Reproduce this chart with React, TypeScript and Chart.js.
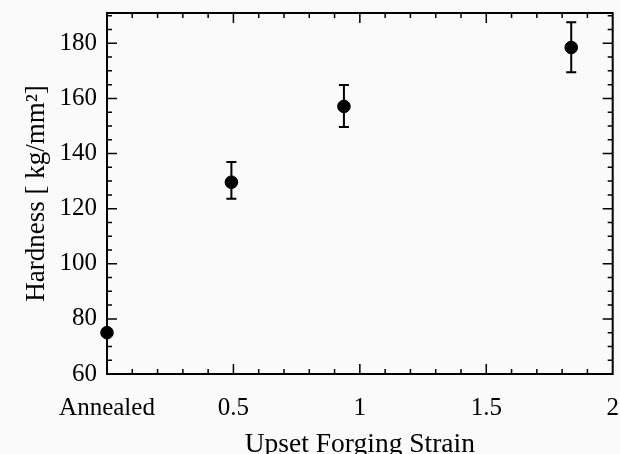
import React, { useEffect, useRef } from "react";
import { Chart, registerables } from "chart.js";

Chart.register(...registerables);

const strain = [0, 0.492, 0.937, 1.836];
const hardness = [75, 129.6, 157.1, 178.5];
const errLow = [null, 123.6, 149.6, 169.5];
const errHigh = [null, 136.9, 164.9, 187.6];
const xTickLabels: Record<string, string> = { "0": "Annealed", "0.5": "0.5", "1": "1", "1.5": "1.5", "2": "2" };
const xMinorStep = 0.1;
const yMinorStep = 5;

const FONT = "'Liberation Serif', 'Times New Roman', serif";

const framePlugin = {
  id: "frame",
  beforeDraw(chart: any) {
    const { ctx } = chart;
    ctx.save();
    ctx.fillStyle = "#fafafa";
    ctx.fillRect(0, 0, chart.width, chart.height);
    ctx.restore();
  },
  beforeDatasetsDraw(chart: any) {
    const { ctx, chartArea: a } = chart;
    const xs = chart.scales.x;
    const ys = chart.scales.y;
    ctx.save();
    ctx.strokeStyle = "#000";
    ctx.lineWidth = 2;
    ctx.strokeRect(a.left, a.top, a.right - a.left, a.bottom - a.top);
    ctx.lineWidth = 1.5;
    const nx = Math.round((xs.max - xs.min) / xMinorStep);
    for (let i = 1; i < nx; i++) {
      const v = xs.min + i * xMinorStep;
      const px = xs.getPixelForValue(v);
      const major = i % 5 === 0;
      const len = major ? 10 : 5;
      ctx.beginPath();
      ctx.moveTo(px, a.bottom);
      ctx.lineTo(px, a.bottom - len);
      ctx.moveTo(px, a.top);
      ctx.lineTo(px, a.top + len);
      ctx.stroke();
    }
    const start = Math.ceil(ys.min / yMinorStep) * yMinorStep;
    for (let v = start; v < ys.max; v += yMinorStep) {
      if (v <= ys.min) continue;
      const py = ys.getPixelForValue(v);
      const major = v % 20 === 0;
      const len = major ? 10 : 5;
      ctx.beginPath();
      ctx.moveTo(a.left, py);
      ctx.lineTo(a.left + len, py);
      ctx.moveTo(a.right, py);
      ctx.lineTo(a.right - len, py);
      ctx.stroke();
    }
    ctx.lineWidth = 2;
    for (let i = 0; i < strain.length; i++) {
      const lo = errLow[i];
      const hi = errHigh[i];
      if (lo == null || hi == null) continue;
      const px = xs.getPixelForValue(strain[i]);
      const pLo = ys.getPixelForValue(lo);
      const pHi = ys.getPixelForValue(hi);
      ctx.beginPath();
      ctx.moveTo(px, pLo);
      ctx.lineTo(px, pHi);
      ctx.moveTo(px - 5, pLo);
      ctx.lineTo(px + 5, pLo);
      ctx.moveTo(px - 5, pHi);
      ctx.lineTo(px + 5, pHi);
      ctx.stroke();
    }
    ctx.restore();
  },
};

export default function App() {
  const ref = useRef<HTMLCanvasElement>(null);
  useEffect(() => {
    document.body.style.margin = "0";
    const chart = new Chart(ref.current!, {
      type: "scatter",
      data: {
        datasets: [
          {
            data: strain.map((x, i) => ({ x, y: hardness[i] })),
            backgroundColor: "#000",
            borderColor: "#000",
            pointRadius: 6.3,
            pointHoverRadius: 6.3,
            clip: false as any,
          },
        ],
      },
      options: {
        animation: false,
        responsive: false,
        devicePixelRatio: 1,
        events: [],
        layout: { padding: { left: 0, right: 7, top: 13, bottom: 0 } },
        plugins: { legend: { display: false }, tooltip: { enabled: false } },
        scales: {
          x: {
            type: "linear",
            min: 0,
            max: 2,
            grid: { display: false, drawTicks: false },
            border: { display: false },
            afterFit: (s: any) => {
              s.height = 80;
              s.paddingLeft = 0;
              s.paddingRight = 0;
            },
            ticks: {
              stepSize: 0.5,
              autoSkip: false,
              maxRotation: 0,
              padding: 19,
              color: "#000",
              font: { family: FONT, size: 25 },
              callback: (v: any) => xTickLabels[String(v)] ?? "",
            },
            title: {
              display: true,
              text: "Upset Forging Strain",
              color: "#000",
              font: { family: FONT, size: 27.5, lineHeight: 0.7 },
              padding: 0,
            },
          },
          y: {
            type: "linear",
            min: 60,
            max: 191,
            grid: { display: false, drawTicks: false },
            border: { display: false },
            afterFit: (s: any) => {
              s.width = 107;
              s.paddingTop = 0;
              s.paddingBottom = 0;
            },
            ticks: {
              stepSize: 20,
              includeBounds: false,
              padding: 10,
              color: "#000",
              font: { family: FONT, size: 25 },
            },
            title: {
              display: true,
              text: "Hardness [ kg/mm²]",
              color: "#000",
              font: { family: FONT, size: 27, lineHeight: 1 },
              padding: { top: 23, bottom: 0 },
            },
          },
        },
      },
      plugins: [framePlugin],
    });
    return () => chart.destroy();
  }, []);
  return (
    <div style={{ width: 620, height: 454 }}>
      <canvas ref={ref} width={620} height={454} />
    </div>
  );
}
